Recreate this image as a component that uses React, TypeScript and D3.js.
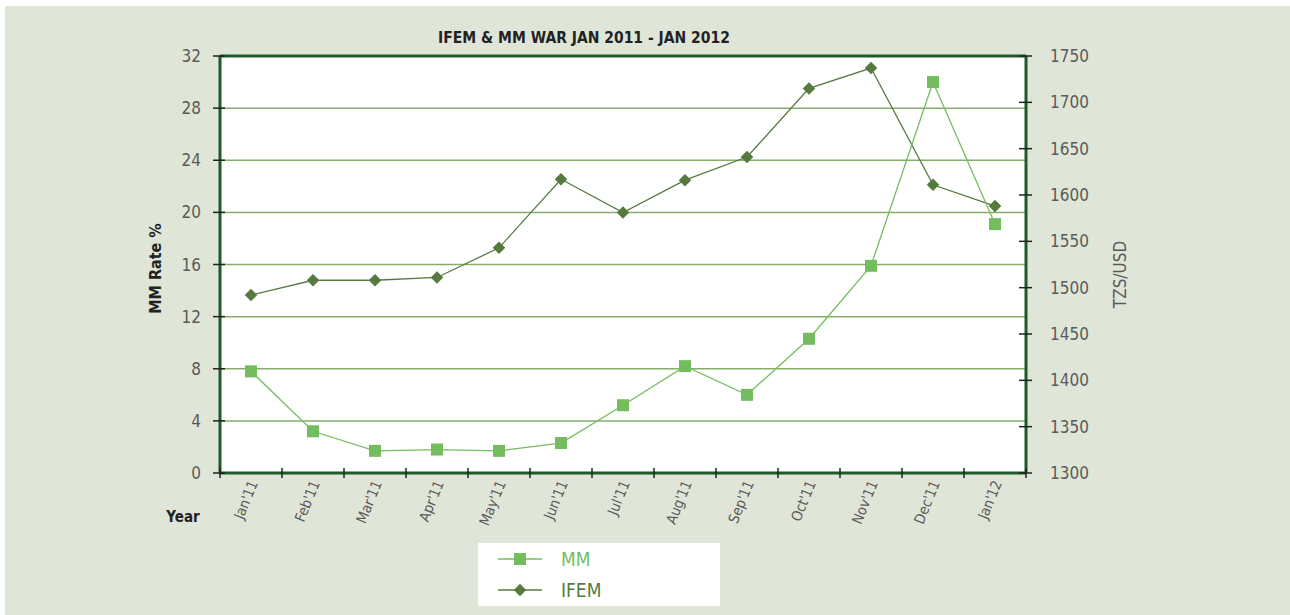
import React from "react";
import * as d3 from "d3";

const months = ["Jan'11","Feb'11","Mar'11","Apr'11","May'11","Jun'11","Jul'11","Aug'11","Sep'11","Oct'11","Nov'11","Dec'11","Jan'12"];
const mmValues = [7.8, 3.2, 1.7, 1.8, 1.7, 2.3, 5.2, 8.2, 6.0, 10.3, 15.9, 30.0, 19.1];
const ifemValues = [1492, 1508, 1508, 1511, 1543, 1617, 1581, 1616, 1641, 1715, 1737, 1611, 1588];
const leftTicks = [0, 4, 8, 12, 16, 20, 24, 28, 32];
const rightTicks = [1300, 1350, 1400, 1450, 1500, 1550, 1600, 1650, 1700, 1750];

const W = 1290, H = 615;
const L = 220, R = 1026, T = 56, B = 473;
const BG = "#dfe6d8";
const AXIS = "#1f5a2b";
const GRID = "#86ad6c";
const MM_C = "#74bd5e";
const IF_C = "#567a3e";
const FONT = "'DejaVu Sans Condensed', 'Liberation Sans Narrow', 'Roboto', sans-serif";

export default function App() {
  const x = d3.scaleBand<string>().domain(months).range([L, R]);
  const yL = d3.scaleLinear().domain([0, 32]).range([B, T]);
  const yR = d3.scaleLinear().domain([1300, 1750]).range([B, T]);
  const cx = (m: string) => (x(m) as number) + x.bandwidth() / 2;

  const mmLine = d3.line<number>().x((_, i) => cx(months[i])).y((d) => yL(d));
  const ifLine = d3.line<number>().x((_, i) => cx(months[i])).y((d) => yR(d));
  const diamond = d3.symbol(d3.symbolDiamond2, 100)() as string;

  const boundaries = months.map((m) => x(m) as number).concat([R]);

  return (
    <svg width={W} height={H} style={{ position: "absolute", left: 0, top: 0, background: "#ffffff" }} fontFamily={FONT}>
      <rect x={5} y={6} width={W - 5} height={H - 6} fill={BG} />
      <rect x={L} y={T} width={R - L} height={B - T} fill="#ffffff" />
      <text x={584} y={43} textAnchor="middle" fontSize={15.5} fontWeight="bold" fill="#222">
        IFEM &amp; MM WAR JAN 2011 - JAN 2012
      </text>
      {leftTicks.filter((t) => t > 0 && t < 32).map((t) => (
        <line key={"g" + t} x1={L} x2={R} y1={yL(t)} y2={yL(t)} stroke={GRID} strokeWidth={1.5} />
      ))}
      <line x1={L} x2={R} y1={T} y2={T} stroke={AXIS} strokeWidth={3} />
      <line x1={L} x2={R} y1={B} y2={B} stroke={AXIS} strokeWidth={3} />
      <line x1={L} x2={L} y1={T} y2={B} stroke={AXIS} strokeWidth={3} />
      <line x1={R} x2={R} y1={T} y2={B} stroke={AXIS} strokeWidth={3} />
      {leftTicks.map((t) => (
        <g key={"l" + t}>
          <line x1={L - 7} x2={L + 5} y1={yL(t)} y2={yL(t)} stroke="#222" strokeWidth={1.5} />
          <text x={L - 19} y={yL(t) + 6} textAnchor="end" fontSize={17} fill="#5a5a5a">{t}</text>
        </g>
      ))}
      {rightTicks.map((t) => (
        <g key={"r" + t}>
          <line x1={R - 7} x2={R + 6} y1={yR(t)} y2={yR(t)} stroke="#222" strokeWidth={1.5} />
          <text x={R + 24} y={yR(t) + 6} textAnchor="start" fontSize={17} fill="#5a5a5a">{t}</text>
        </g>
      ))}
      {boundaries.map((b, i) => (
        <line key={"b" + i} x1={b} x2={b} y1={B - 5} y2={B + 5} stroke="#222" strokeWidth={1.5} />
      ))}
      {months.map((m) => (
        <text key={"x" + m} transform={`translate(${cx(m) + 7},${B + 10}) rotate(-68)`} textAnchor="end" fontSize={14.5} fill="#5a5a5a">
          {m}
        </text>
      ))}
      <text transform={`translate(161,${(T + B) / 2 + 4}) rotate(-90)`} textAnchor="middle" fontSize={16} fontWeight="bold" fill="#222">
        MM Rate %
      </text>
      <text transform={`translate(1126,${(T + B) / 2 + 10}) rotate(-90)`} textAnchor="middle" fontSize={17} fill="#5a5a5a">
        TZS/USD
      </text>
      <text x={183} y={522} textAnchor="middle" fontSize={15} fontWeight="bold" fill="#222">Year</text>

      <path d={ifLine(ifemValues) as string} fill="none" stroke={IF_C} strokeWidth={1.3} />
      {ifemValues.map((v, i) => (
        <path key={"d" + i} d={diamond} transform={`translate(${cx(months[i])},${yR(v)})`} fill={IF_C} />
      ))}
      <path d={mmLine(mmValues) as string} fill="none" stroke={MM_C} strokeWidth={1.3} />
      {mmValues.map((v, i) => (
        <rect key={"s" + i} x={cx(months[i]) - 6} y={yL(v) - 6} width={12} height={12} fill={MM_C} />
      ))}

      <rect x={478} y={543} width={242} height={63} fill="#ffffff" />
      <line x1={498} x2={542} y1={559} y2={559} stroke={MM_C} strokeWidth={1.3} />
      <rect x={514} y={553} width={12} height={12} fill={MM_C} />
      <text x={561} y={566} fontSize={19} fill={MM_C}>MM</text>
      <line x1={498} x2={542} y1={590} y2={590} stroke={IF_C} strokeWidth={1.3} />
      <path d={diamond} transform={`translate(520,590)`} fill={IF_C} />
      <text x={561} y={597} fontSize={19} fill={IF_C}>IFEM</text>
    </svg>
  );
}
